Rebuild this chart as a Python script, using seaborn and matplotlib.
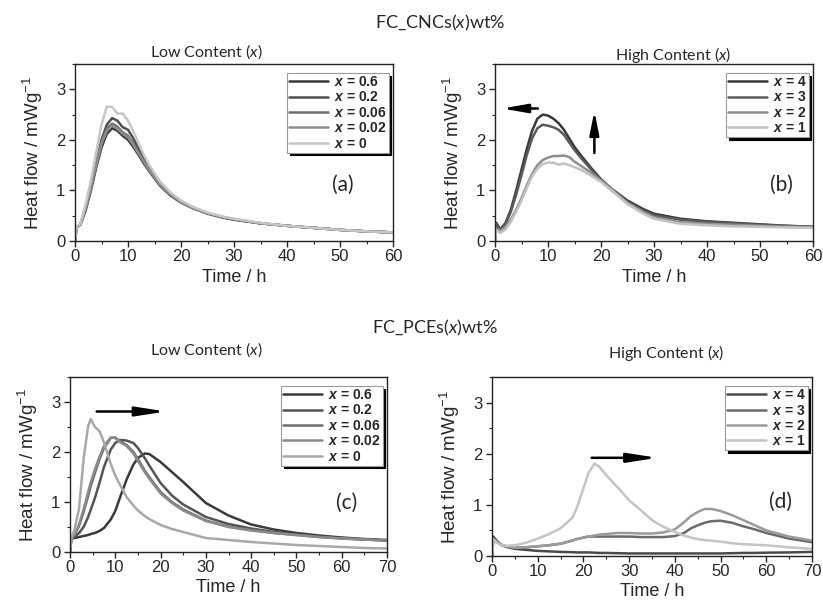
import numpy as np
import pandas as pd
import matplotlib
matplotlib.use("Agg")
import matplotlib.pyplot as plt
import seaborn as sns
from matplotlib import font_manager
from matplotlib.ticker import MultipleLocator

# ---- data (time in h, heat flow in mW/g) ----
# (a) FC_CNCs, low content
time_a = [0, 0.3, 1, 2, 3, 4, 5, 6, 7, 8, 9, 10, 11, 12, 13, 14, 16, 18, 20, 22, 25, 28, 30, 35, 40, 45, 50, 55, 60]
labels_a = ["0.6", "0.2", "0.06", "0.02", "0"]
cnc_low_06 = [0.0, 0.27, 0.32, 0.6, 1.0, 1.45, 1.85, 2.12, 2.23, 2.18, 2.08, 2.0, 1.86, 1.7, 1.53, 1.38, 1.1, 0.9, 0.76, 0.66, 0.54, 0.46, 0.42, 0.35, 0.3, 0.26, 0.22, 0.19, 0.17]
cnc_low_02 = [0.0, 0.27, 0.33, 0.65, 1.08, 1.55, 2.0, 2.3, 2.43, 2.38, 2.25, 2.2, 2.03, 1.82, 1.62, 1.45, 1.15, 0.93, 0.78, 0.67, 0.55, 0.47, 0.43, 0.35, 0.3, 0.26, 0.22, 0.19, 0.17]
cnc_low_006 = [0.0, 0.27, 0.33, 0.64, 1.06, 1.52, 1.95, 2.22, 2.32, 2.26, 2.15, 2.08, 1.93, 1.75, 1.57, 1.41, 1.12, 0.92, 0.77, 0.66, 0.55, 0.47, 0.43, 0.35, 0.3, 0.26, 0.22, 0.19, 0.17]
cnc_low_002 = [0.0, 0.27, 0.33, 0.63, 1.04, 1.5, 1.92, 2.18, 2.28, 2.22, 2.12, 2.05, 1.9, 1.73, 1.56, 1.4, 1.12, 0.92, 0.77, 0.66, 0.55, 0.47, 0.43, 0.35, 0.3, 0.26, 0.22, 0.19, 0.17]
cnc_low_0 = [0.0, 0.28, 0.34, 0.72, 1.2, 1.75, 2.3, 2.66, 2.65, 2.52, 2.52, 2.38, 2.17, 1.93, 1.7, 1.5, 1.18, 0.96, 0.8, 0.69, 0.56, 0.48, 0.44, 0.36, 0.3, 0.26, 0.22, 0.19, 0.17]

# (b) FC_CNCs, high content
time_b = [0, 0.2, 1, 2, 3, 4, 5, 6, 7, 8, 9, 10, 11, 12, 13, 14, 15, 16, 18, 20, 22, 25, 28, 30, 35, 40, 45, 50, 55, 60]
labels_b = ["4", "3", "2", "1"]
cnc_high_4 = [0.0, 0.36, 0.23, 0.36, 0.62, 1.0, 1.41, 1.82, 2.18, 2.42, 2.5, 2.48, 2.42, 2.33, 2.2, 2.03, 1.86, 1.72, 1.46, 1.22, 1.03, 0.8, 0.63, 0.54, 0.44, 0.39, 0.36, 0.33, 0.3, 0.28]
cnc_high_3 = [0.0, 0.34, 0.22, 0.34, 0.58, 0.92, 1.3, 1.7, 2.03, 2.23, 2.3, 2.28, 2.25, 2.2, 2.1, 1.95, 1.8, 1.67, 1.43, 1.2, 1.0, 0.77, 0.6, 0.51, 0.42, 0.38, 0.35, 0.32, 0.3, 0.28]
cnc_high_2 = [0.0, 0.25, 0.2, 0.28, 0.43, 0.62, 0.85, 1.1, 1.33, 1.5, 1.6, 1.65, 1.68, 1.68, 1.69, 1.66, 1.57, 1.5, 1.36, 1.2, 1.02, 0.76, 0.57, 0.47, 0.37, 0.34, 0.32, 0.3, 0.28, 0.27]
cnc_high_1 = [0.0, 0.22, 0.16, 0.23, 0.38, 0.58, 0.8, 1.05, 1.28, 1.43, 1.52, 1.55, 1.55, 1.51, 1.53, 1.5, 1.46, 1.42, 1.3, 1.17, 1.0, 0.73, 0.54, 0.44, 0.34, 0.31, 0.29, 0.28, 0.27, 0.26]

# (c) FC_PCEs, low content
time_c = [0, 0.3, 1, 2, 3, 4, 4.6, 5.5, 6.5, 7.5, 9, 10, 11, 12.5, 14, 15, 16.5, 17.5, 20, 22.5, 25, 30, 35, 40, 45, 50, 55, 60, 65, 70]
labels_c = ["0.6", "0.2", "0.06", "0.02", "0"]
pce_low_06 = [0.0, 0.27, 0.28, 0.3, 0.32, 0.34, 0.36, 0.38, 0.42, 0.48, 0.65, 0.82, 1.08, 1.45, 1.75, 1.88, 1.97, 1.96, 1.8, 1.6, 1.4, 0.98, 0.73, 0.55, 0.45, 0.38, 0.33, 0.29, 0.26, 0.24]
pce_low_02 = [0.0, 0.27, 0.3, 0.38, 0.5, 0.7, 0.85, 1.08, 1.38, 1.7, 2.05, 2.18, 2.24, 2.23, 2.18, 2.08, 1.88, 1.73, 1.38, 1.13, 0.95, 0.7, 0.56, 0.47, 0.4, 0.35, 0.31, 0.28, 0.25, 0.23]
pce_low_006 = [0.0, 0.28, 0.34, 0.52, 0.8, 1.12, 1.32, 1.58, 1.85, 2.08, 2.28, 2.29, 2.22, 2.14, 2.0, 1.86, 1.63, 1.5, 1.2, 1.0, 0.85, 0.63, 0.51, 0.44, 0.38, 0.34, 0.3, 0.27, 0.25, 0.23]
pce_low_002 = [0.0, 0.28, 0.35, 0.55, 0.85, 1.2, 1.4, 1.65, 1.9, 2.12, 2.29, 2.28, 2.2, 2.12, 1.97, 1.82, 1.6, 1.47, 1.17, 0.98, 0.83, 0.62, 0.5, 0.43, 0.38, 0.34, 0.3, 0.27, 0.25, 0.23]
pce_low_0 = [0.0, 0.28, 0.45, 0.87, 1.86, 2.52, 2.66, 2.5, 2.42, 2.19, 1.76, 1.53, 1.35, 1.1, 0.93, 0.83, 0.72, 0.66, 0.54, 0.46, 0.4, 0.28, 0.24, 0.2, 0.17, 0.14, 0.12, 0.1, 0.08, 0.07]

# (d) FC_PCEs, high content
time_d = [0, 0.3, 1, 2, 3, 5, 7.5, 10, 12.5, 15, 17.5, 18.5, 20, 21, 22.4, 23.5, 25, 27.5, 30, 32.5, 35, 37.5, 40, 42, 43.5, 45, 46.5, 48, 50, 52.5, 55, 57.5, 60, 65, 70]
labels_d = ["4", "3", "2", "1"]
pce_high_4 = [0.0, 0.38, 0.3, 0.22, 0.18, 0.14, 0.12, 0.1, 0.09, 0.08, 0.075, 0.07, 0.07, 0.07, 0.065, 0.06, 0.06, 0.055, 0.05, 0.05, 0.05, 0.05, 0.05, 0.05, 0.05, 0.05, 0.05, 0.05, 0.05, 0.055, 0.06, 0.06, 0.065, 0.07, 0.08]
pce_high_3 = [0.0, 0.33, 0.28, 0.22, 0.19, 0.16, 0.17, 0.19, 0.21, 0.24, 0.3, 0.33, 0.36, 0.38, 0.38, 0.38, 0.38, 0.38, 0.38, 0.37, 0.37, 0.37, 0.39, 0.45, 0.54, 0.6, 0.65, 0.68, 0.69, 0.65, 0.58, 0.52, 0.45, 0.34, 0.27]
pce_high_2 = [0.0, 0.34, 0.28, 0.22, 0.19, 0.16, 0.17, 0.19, 0.21, 0.24, 0.3, 0.33, 0.36, 0.38, 0.4, 0.42, 0.43, 0.45, 0.45, 0.44, 0.44, 0.46, 0.52, 0.66, 0.78, 0.86, 0.92, 0.92, 0.88, 0.8, 0.7, 0.6, 0.5, 0.38, 0.3]
pce_high_1 = [0.0, 0.32, 0.26, 0.21, 0.2, 0.21, 0.26, 0.34, 0.43, 0.54, 0.74, 0.93, 1.32, 1.6, 1.81, 1.74, 1.58, 1.34, 1.09, 0.9, 0.7, 0.57, 0.47, 0.4, 0.36, 0.33, 0.31, 0.3, 0.28, 0.25, 0.23, 0.22, 0.21, 0.17, 0.14]

# ---- style ----
sns.set_style("ticks")
names = {f.name for f in font_manager.fontManager.ttflist}
narrow = "Liberation Sans Narrow" if "Liberation Sans Narrow" in names else "Liberation Sans"
title_font = "Lato" if "Lato" in names else "DejaVu Sans"
plt.rcParams["font.family"] = [narrow, "DejaVu Sans"]
plt.rcParams["mathtext.fontset"] = "custom"
plt.rcParams["mathtext.rm"] = narrow
plt.rcParams["mathtext.it"] = title_font + ":italic"
plt.rcParams["mathtext.bf"] = narrow + ":bold"
plt.rcParams["mathtext.bfit"] = narrow + ":bold:italic"
plt.rcParams["axes.linewidth"] = 1.0
plt.rcParams["axes.edgecolor"] = "#222222"

W, H = 823, 610
fig = plt.figure(figsize=(W / 100, H / 100), dpi=100)


def px_axes(left, right, top, bottom):
    return fig.add_axes([left / W, 1 - bottom / H, (right - left) / W, (bottom - top) / H])


def draw_panel(ax, t, series, labels, colors, xmax, tag, tag_xy, leg_anchor):
    for vals, lab, col in zip(series, labels, colors):
        sns.lineplot(x=t, y=vals, ax=ax, color=col, lw=1.8, label=r"$\mathbfit{x}$ = " + lab, sort=False)
    ax.set_xlim(0, xmax)
    ax.set_ylim(0, 3.5)
    ax.xaxis.set_major_locator(MultipleLocator(10))
    ax.xaxis.set_minor_locator(MultipleLocator(5))
    ax.yaxis.set_major_locator(MultipleLocator(1))
    ax.yaxis.set_minor_locator(MultipleLocator(0.5))
    ax.tick_params(which="major", direction="out", length=4, width=1, labelsize=12, pad=2)
    ax.tick_params(which="minor", direction="out", length=2.5, width=0.8)
    ax.tick_params(axis="y", pad=3)
    ax.set_xlabel("Time / h", fontsize=13, labelpad=3)
    ax.set_ylabel(r"Heat flow / mWg$^{-1}$", fontsize=13.5, labelpad=8)
    ax.text(tag_xy[0], tag_xy[1], tag, transform=ax.transAxes, fontsize=15,
            family=title_font, ha="center", va="center")
    leg = ax.legend(loc="upper right", bbox_to_anchor=leg_anchor,
                    prop={"weight": "bold", "size": 10}, frameon=True, fancybox=False,
                    shadow={"color": "black", "alpha": 1.0}, edgecolor="#9a9a9a",
                    borderpad=0.15, labelspacing=0.1, handlelength=2.8, handletextpad=0.4,
                    borderaxespad=0.2)
    leg.get_frame().set_linewidth(0.8)
    for txt in leg.get_texts():
        txt.set_ha("right")
    leg._legend_box.align = "right"


def arrow(ax, start, end, hl=0.9, hw=0.14):
    ax.annotate("", xy=end, xytext=start,
                arrowprops=dict(arrowstyle=f"-|>,head_length={hl},head_width={hw}",
                                color="black", lw=1.8, mutation_scale=20,
                                shrinkA=0, shrinkB=0))


ax_a = px_axes(75, 393, 64, 241)
ax_b = px_axes(495, 813, 64, 241)
ax_c = px_axes(70, 387, 377, 552)
ax_d = px_axes(492, 812, 377, 556)

draw_panel(ax_a, time_a, [cnc_low_06, cnc_low_02, cnc_low_006, cnc_low_002, cnc_low_0], labels_a,
           ["#383838", "#4e4e4e", "#6c6c6c", "#8c8c8c", "#c6c6c6"], 60, "(a)", (0.843, 0.316), (0.995, 0.965))
draw_panel(ax_b, time_b, [cnc_high_4, cnc_high_3, cnc_high_2, cnc_high_1], labels_b,
           ["#383838", "#5a5a5a", "#8e8e8e", "#c2c2c2"], 60, "(b)", (0.90, 0.316), (0.995, 0.965))
draw_panel(ax_c, time_c, [pce_low_06, pce_low_02, pce_low_006, pce_low_002, pce_low_0], labels_c,
           ["#3a3a3a", "#545454", "#6e6e6e", "#8a8a8a", "#a8a8a8"], 70, "(c)", (0.874, 0.28), (0.995, 0.965))
draw_panel(ax_d, time_d, [pce_high_4, pce_high_3, pce_high_2, pce_high_1], labels_d,
           ["#4a4a4a", "#6a6a6a", "#9a9a9a", "#c4c4c4"], 70, "(d)", (0.90, 0.30), (0.995, 0.965))

arrow(ax_b, (8.1, 2.62), (1.3, 2.62), hl=0.75, hw=0.13)
arrow(ax_b, (18.75, 1.74), (18.75, 2.57), hl=0.7, hw=0.14)
arrow(ax_c, (5.9, 2.81), (21.2, 2.81))
arrow(ax_d, (21.8, 1.92), (36.2, 1.92))

# headings
fig.text(440 / W, 1 - 23 / H, r"FC_CNCs($\mathit{x}$)wt%", family=title_font, fontsize=13, ha="center", va="center")
fig.text(206 / W, 1 - 52 / H, r"Low Content ($\mathit{x}$)", family=title_font, fontsize=11.5, ha="center", va="center")
fig.text(673 / W, 1 - 55 / H, r"High Content ($\mathit{x}$)", family=title_font, fontsize=11.5, ha="center", va="center")
fig.text(435 / W, 1 - 328 / H, r"FC_PCEs($\mathit{x}$)wt%", family=title_font, fontsize=13, ha="center", va="center")
fig.text(206 / W, 1 - 350 / H, r"Low Content ($\mathit{x}$)", family=title_font, fontsize=11.5, ha="center", va="center")
fig.text(666 / W, 1 - 353 / H, r"High Content ($\mathit{x}$)", family=title_font, fontsize=11.5, ha="center", va="center")

fig.savefig("out.png", dpi=100, facecolor="white")
